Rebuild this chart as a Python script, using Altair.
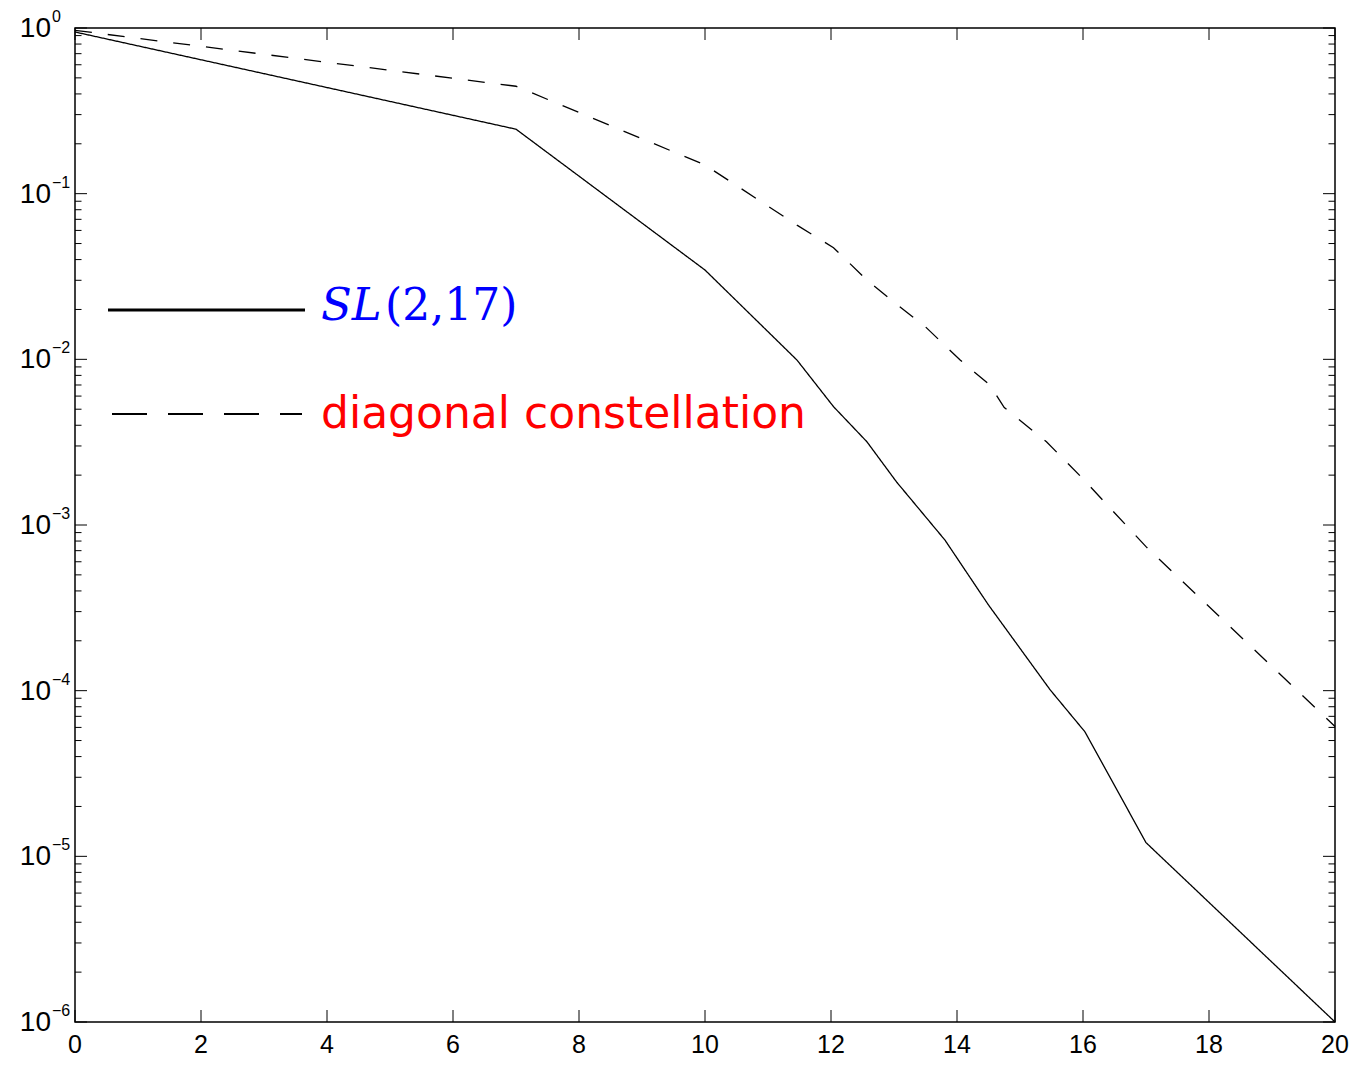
import altair as alt
import pandas as pd

# ---- data ----
x_sl = [0, 7, 10, 11.46, 12.04, 12.57, 13.04, 13.81, 14.5, 15.48, 16.03, 17, 20]
y_sl = [0.946, 0.245, 0.0346, 0.0099, 0.00518, 0.00318, 0.00182, 8.1e-4,
        3.29e-4, 1.01e-4, 5.65e-5, 1.21e-5, 1.0e-6]
x_diag = [0, 7, 10, 11.46, 12.04, 12.57, 13.04, 13.5, 14.05, 14.52, 14.75,
          15.42, 16.0, 17, 20]
y_diag = [0.968, 0.445, 0.149, 0.0646, 0.0472, 0.0301, 0.0215, 0.0157, 0.0099,
          0.0070, 0.00512, 0.00318, 0.0019, 7.4e-4, 6.08e-5]

x_ticks = [0, 2, 4, 6, 8, 10, 12, 14, 16, 18, 20]
x_tick_labels = ["0", "2", "4", "6", "8", "10", "12", "14", "16", "18", "20"]
y_decades = [0, -1, -2, -3, -4, -5, -6]
y_exp_labels = ["0", "\u22121", "\u22122", "\u22123", "\u22124", "\u22125", "\u22126"]
minor_mult = [2, 3, 4, 5, 6, 7, 8, 9]

W, H = 1260, 994

lines = pd.DataFrame(
    {"x": x_sl + x_diag,
     "y": y_sl + y_diag,
     "series": ["SL"] * len(x_sl) + ["diag"] * len(x_diag)}
)
xt = pd.DataFrame({"x": x_ticks, "label": x_tick_labels})
yt = pd.DataFrame({"y": [10.0 ** d for d in y_decades]})
ym = pd.DataFrame({"y": [m * 10.0 ** d for d in y_decades[1:] for m in minor_mult]})
ylab = pd.DataFrame({"y": [10.0 ** d for d in y_decades], "base": ["10"] * len(y_decades),
                     "exp": y_exp_labels})

xs = alt.Scale(domain=[0, 20], nice=False, zero=False)
ys = alt.Scale(type="log", domain=[1e-6, 1], nice=False)

line_layer = alt.Chart(lines).mark_line(color="black", strokeWidth=1.3).encode(
    x=alt.X("x:Q", scale=xs, axis=None),
    y=alt.Y("y:Q", scale=ys, axis=None),
    strokeDash=alt.StrokeDash("series:N",
                              scale=alt.Scale(domain=["SL", "diag"], range=[[1, 0], [17, 16]]),
                              legend=None),
    detail="series:N",
)

tick_x_bot = alt.Chart(xt).mark_rule(color="black", strokeWidth=1).encode(
    x=alt.X("x:Q", scale=xs, axis=None), y=alt.value(H), y2=alt.value(H - 12))
tick_x_top = alt.Chart(xt).mark_rule(color="black", strokeWidth=1).encode(
    x=alt.X("x:Q", scale=xs, axis=None), y=alt.value(0), y2=alt.value(12))
xlab = alt.Chart(xt).mark_text(
    align="center", baseline="alphabetic", font="Liberation Sans", fontSize=25, color="black"
).encode(x=alt.X("x:Q", scale=xs, axis=None), y=alt.value(H + 31), text="label:N")

tick_y_left = alt.Chart(yt).mark_rule(color="black", strokeWidth=1).encode(
    y=alt.Y("y:Q", scale=ys, axis=None), x=alt.value(0), x2=alt.value(12))
tick_y_right = alt.Chart(yt).mark_rule(color="black", strokeWidth=1).encode(
    y=alt.Y("y:Q", scale=ys, axis=None), x=alt.value(W), x2=alt.value(W - 12))
minor_left = alt.Chart(ym).mark_rule(color="black", strokeWidth=1).encode(
    y=alt.Y("y:Q", scale=ys, axis=None), x=alt.value(0), x2=alt.value(6.5))
minor_right = alt.Chart(ym).mark_rule(color="black", strokeWidth=1).encode(
    y=alt.Y("y:Q", scale=ys, axis=None), x=alt.value(W), x2=alt.value(W - 6.5))

ylab_base = alt.Chart(ylab).mark_text(
    align="right", baseline="middle", font="Liberation Sans", fontSize=28, color="black", dy=1
).encode(y=alt.Y("y:Q", scale=ys, axis=None), x=alt.value(-24), text="base:N")
ylab_exp = alt.Chart(ylab).mark_text(
    align="left", baseline="middle", font="Liberation Sans", fontSize=16, color="black", dy=-11
).encode(y=alt.Y("y:Q", scale=ys, axis=None), x=alt.value(-23), text="exp:N")

# ---- legend (drawn in pixel space) ----
leg_solid = alt.Chart(pd.DataFrame({"a": [0]})).mark_rule(color="black", strokeWidth=3).encode(
    x=alt.value(33), x2=alt.value(230), y=alt.value(282))
leg_dash = alt.Chart(pd.DataFrame({"a": [0]})).mark_rule(
    color="black", strokeWidth=2, strokeDash=[35, 21]).encode(
    x=alt.value(37), x2=alt.value(227), y=alt.value(386))
leg_sl_it = alt.Chart(pd.DataFrame({"t": ["SL"]})).mark_text(
    align="left", baseline="alphabetic", font="DejaVu Serif", fontStyle="italic",
    fontSize=45, color="blue").encode(x=alt.value(246), y=alt.value(292), text="t:N")
leg_sl_up = alt.Chart(pd.DataFrame({"t": ["(2,17)"]})).mark_text(
    align="left", baseline="alphabetic", font="DejaVu Serif",
    fontSize=44, color="blue").encode(x=alt.value(310), y=alt.value(292), text="t:N")
leg_diag = alt.Chart(pd.DataFrame({"t": ["diagonal constellation"]})).mark_text(
    align="left", baseline="alphabetic", font="DejaVu Sans",
    fontSize=44, color="red").encode(x=alt.value(246), y=alt.value(400), text="t:N")

chart = alt.layer(
    line_layer, tick_x_bot, tick_x_top, xlab, tick_y_left, tick_y_right, minor_left, minor_right,
    ylab_base, ylab_exp, leg_solid, leg_dash, leg_sl_it, leg_sl_up, leg_diag
).properties(
    width=W, height=H,
    autosize=alt.AutoSizeParams(type="none"),
    padding={"left": 67, "top": 20, "right": 16, "bottom": 35},
).configure_view(stroke="black", strokeWidth=1.5)

chart.save("out.html", embed_options={"renderer": "svg", "actions": False})
